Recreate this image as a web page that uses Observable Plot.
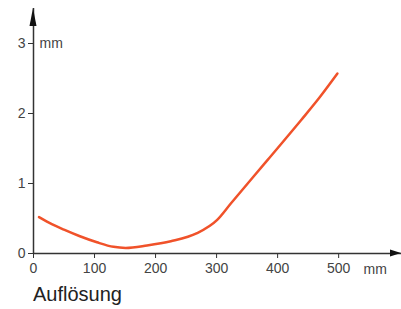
<!DOCTYPE html>
<html>
<head>
<meta charset="utf-8">
<script src="https://cdn.jsdelivr.net/npm/d3@7"></script>
<script src="https://cdn.jsdelivr.net/npm/@observablehq/plot@0.6"></script>
<style>
  body { margin: 0; background: #fff; font-family: "Liberation Sans", Arial, sans-serif; }
  #cap { font-size: 20px; color: #222; padding-left: 33px; line-height: 22px; margin-top: 3px; }
</style>
</head>
<body>
<div id="chart"></div>
<div id="cap">Auflösung</div>
<script>
const distance = [9, 30, 50, 75, 104, 131, 151, 186, 225, 268, 301, 323, 383, 438, 468, 498];
const resolution = [0.52, 0.42, 0.34, 0.25, 0.16, 0.095, 0.08, 0.115, 0.175, 0.29, 0.48, 0.71, 1.33, 1.90, 2.22, 2.57];
const xTicks = [0, 100, 200, 300, 400, 500];
const yTicks = [0, 1, 2, 3];
const unitX = "mm";
const unitY = "mm";

const data = distance.map((d, i) => ({x: d, y: resolution[i]}));
const axisColor = "#333";

const plot = Plot.plot({
  width: 401,
  height: 280,
  marginLeft: 33,
  marginRight: 0,
  marginTop: 8,
  marginBottom: 27,
  style: {fontFamily: "Liberation Sans, Arial, sans-serif", fontSize: "14px", color: "#444", background: "#fff"},
  x: {domain: [0, 603]},
  y: {domain: [0, 3.5]},
  marks: [
    Plot.axisX(xTicks, {tickSize: 5, tickPadding: 5, label: null, stroke: axisColor, fill: "#444", tickFormat: d3.format("d")}),
    Plot.axisY(yTicks, {tickSize: 5, tickPadding: 3, label: null, stroke: axisColor, fill: "#444", tickFormat: d3.format("d")}),
    Plot.ruleY([0], {stroke: axisColor, strokeWidth: 1.5}),
    Plot.ruleX([0], {stroke: axisColor, strokeWidth: 1.5}),
    Plot.line(data, {x: "x", y: "y", stroke: "#F0522A", strokeWidth: 2.5, curve: "monotone-x"}),
    Plot.text([unitX], {x: 560, y: 0, dy: 16, fill: "#444", fontSize: 14}),
    Plot.text([unitY], {x: 0, y: 3, dx: 6, textAnchor: "start", fill: "#444", fontSize: 14})
  ]
});
document.getElementById("chart").appendChild(plot);

// Arrowheads at the axis ends, positioned through the plot's scales
const sx = plot.scale("x"), sy = plot.scale("y");
const svg = d3.select(plot);
const x0 = sx.apply(0), y0 = sy.apply(0);
const xEnd = sx.apply(603), yEnd = sy.apply(3.5);
svg.append("path")
  .attr("d", `M${x0},${yEnd} L${x0 - 3.5},${yEnd + 18} L${x0 + 3.5},${yEnd + 18} Z`)
  .attr("fill", "#111");
svg.append("path")
  .attr("d", `M${xEnd},${y0} L${xEnd - 11},${y0 - 3.5} L${xEnd - 11},${y0 + 3.5} Z`)
  .attr("fill", "#111");
</script>
</body>
</html>
